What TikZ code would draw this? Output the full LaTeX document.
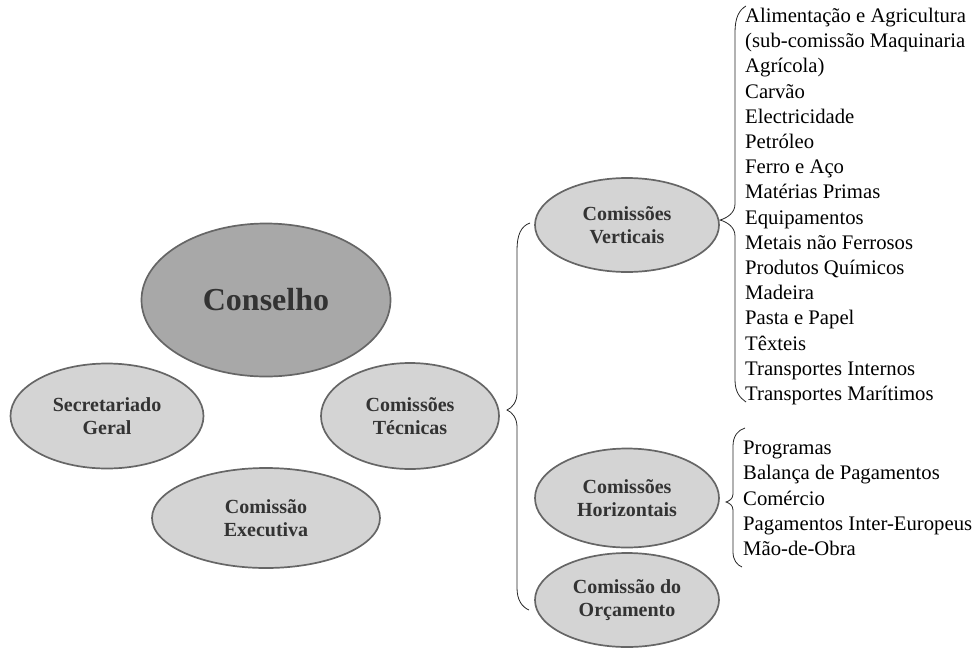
\documentclass[tikz,border=0pt]{standalone}
\usepackage{fontspec}
\setmainfont{Liberation Serif}
\usetikzlibrary{shapes.geometric}
\definecolor{bubblegray}{gray}{0.83}
\definecolor{headgray}{gray}{0.66}
\definecolor{rimgray}{gray}{0.40}

\begin{document}
\begin{tikzpicture}[x=1pt,y=-1pt,
  bubble/.style={ellipse,draw=rimgray,line width=1.7pt,fill=bubblegray,inner sep=0pt,
    align=center,text=black!80,font=\fontsize{20}{22.5}\selectfont\bfseries},
  items/.style={anchor=north west,inner sep=0pt,align=left,font=\fontsize{20.7}{25.2}\selectfont},
  curly/.style={draw=black!85,line width=0.8pt}]
\useasboundingbox (0,0) rectangle (973,648);
% Council and the bodies round it
\node[bubble,fill=headgray,minimum width=249,minimum height=153,
  font=\fontsize{32}{36}\selectfont\bfseries] (cons) at (266,300) {Conselho};
\node[bubble,minimum width=193,minimum height=105] (secr) at (107,416) {Secretariado\\Geral};
\node[bubble,minimum width=178,minimum height=106] (tecn) at (410,416) {Comissões\\Técnicas};
\node[bubble,minimum width=228,minimum height=100] (exec) at (266,518) {Comissão\\Executiva};
% the technical commissions
\node[bubble,minimum width=184,minimum height=94] (vert) at (627,225) {Comissões\\Verticais};
\node[bubble,minimum width=184,minimum height=99] (horiz) at (627,498) {Comissões\\Horizontais};
\node[bubble,minimum width=184,minimum height=94] (orca) at (627,600) {Comissão do\\Orçamento};
% lists
\node[items] (vlist) at (745,8) {Alimentação e Agricultura\\(sub-comissão Maquinaria\\Agrícola)\\Carvão\\Electricidade\\Petróleo\\Ferro e Aço\\Matérias Primas\\Equipamentos\\Metais não Ferrosos\\Produtos Químicos\\Madeira\\Pasta e Papel\\Têxteis\\Transportes Internos\\Transportes Marítimos};
\node[items] (hlist) at (743,441) {Programas\\Balança de Pagamentos\\Comércio\\Pagamentos Inter-Europeus\\Mão-de-Obra};
% braces
\coordinate (tecn-tip) at (507,410);
\coordinate (vert-tip) at (720,220);
\coordinate (horiz-tip) at (726,502);
\draw[curly] (530,223) .. controls (521,226) and (517,235) .. (517,250) -- (517,393)
  .. controls (517,402) and (512,408) .. (tecn-tip)
  .. controls (512,412) and (517,418) .. (517,427) -- (517,588)
  .. controls (517,600) and (522,607) .. (529,610);
\draw[curly] (746,6) .. controls (739,10) and (735,18) .. (735,32) -- (735,204)
  .. controls (735,213) and (727,218) .. (vert-tip)
  .. controls (727,222) and (735,227) .. (735,236) -- (735,380)
  .. controls (735,392) and (740,398) .. (746,402);
\draw[curly] (745,428) .. controls (738,430) and (733,436) .. (733,446) -- (733,494)
  .. controls (733,499) and (729,501) .. (horiz-tip)
  .. controls (729,503) and (733,505) .. (733,510) -- (733,552)
  .. controls (733,560) and (737,565) .. (742,567);
\end{tikzpicture}
\end{document}
